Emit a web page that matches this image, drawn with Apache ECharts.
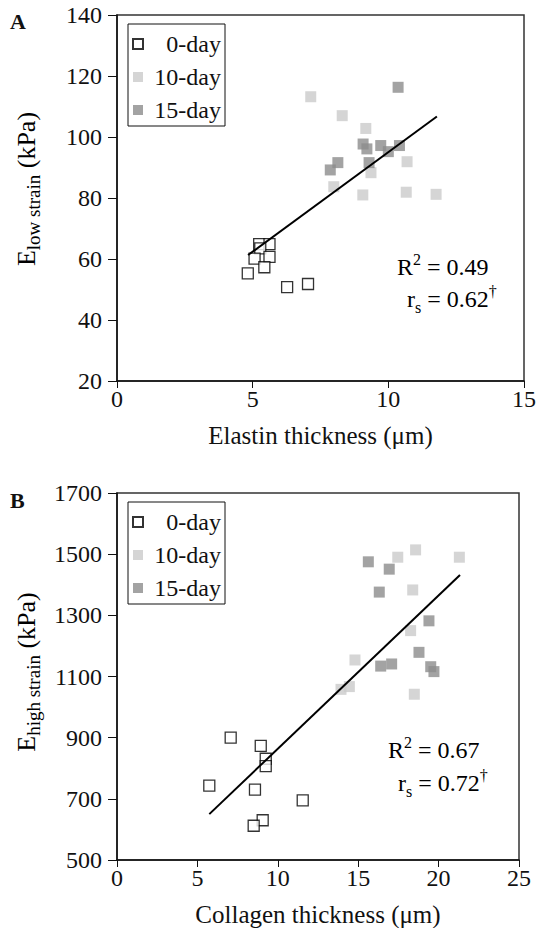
<!DOCTYPE html>
<html>
<head>
<meta charset="utf-8">
<script src="https://cdn.jsdelivr.net/npm/echarts@6/dist/echarts.min.js"></script>
<style>
  html, body { margin: 0; padding: 0; background: #fff; }
  #chart { width: 539px; height: 928px; }
</style>
</head>
<body>
<div id="chart"></div>
<script>
// panel A: elastin thickness vs E low strain
const xA0 = [5.24, 5.62, 5.28, 5.07, 5.62, 5.43, 4.82, 6.27, 7.04];
const yA0 = [64.9, 64.9, 63.5, 60.1, 60.7, 57.3, 55.3, 50.8, 51.8];
const xA10 = [7.14, 8.30, 9.17, 10.69, 9.36, 7.99, 9.06, 10.66, 11.76];
const yA10 = [113.2, 107.0, 102.8, 91.9, 88.3, 83.7, 81.0, 81.9, 81.2];
const xA15 = [10.36, 9.07, 9.21, 9.72, 10.0, 10.41, 8.14, 7.86, 9.29];
const yA15 = [116.3, 97.7, 96.1, 97.2, 95.2, 97.2, 91.6, 89.2, 91.6];
const fitA = [[4.83, 61.3], [11.79, 106.7]];

// panel B: collagen thickness vs E high strain
const xB0 = [7.07, 8.94, 9.25, 9.25, 5.74, 8.58, 11.55, 9.06, 8.50];
const yB0 = [900, 873, 831, 807, 743, 730, 695, 630, 612];
const xB10 = [17.46, 18.57, 21.29, 18.39, 18.26, 14.80, 13.93, 14.45, 18.49];
const yB10 = [1490, 1514, 1490, 1383, 1250, 1154, 1058, 1067, 1042];
const xB15 = [15.63, 16.93, 16.31, 19.40, 18.78, 16.40, 17.08, 19.51, 19.71];
const yB15 = [1475, 1451, 1376, 1282, 1179, 1134, 1141, 1132, 1116];
const fitB = [[5.74, 650], [21.33, 1432]];

const groups = ['0-day', '10-day', '15-day'];
const xTicksA = [0, 5, 10, 15];
const yTicksA = [20, 40, 60, 80, 100, 120, 140];
const xTicksB = [0, 5, 10, 15, 20, 25];
const yTicksB = [500, 700, 900, 1100, 1300, 1500, 1700];

const FONT = '"Liberation Serif", "Times New Roman", serif';
const styles = {
  '0-day': { color: '#ffffff', borderColor: '#000', borderWidth: 1.3 },
  '10-day': { color: '#cbcbcb' },
  '15-day': { color: '#8c8c8c' }
};

const zip = (xs, ys) => xs.map((x, i) => [x, ys[i]]);

function scatter(name, idx, xs, ys) {
  return {
    name: name,
    type: 'scatter',
    xAxisIndex: idx,
    yAxisIndex: idx,
    symbol: 'rect',
    symbolSize: 11,
    itemStyle: styles[name],
    data: zip(xs, ys)
  };
}

function fitLine(idx, pts) {
  return {
    type: 'line',
    xAxisIndex: idx,
    yAxisIndex: idx,
    showSymbol: false,
    silent: true,
    lineStyle: { color: '#000', width: 2 },
    data: pts
  };
}

function xAxis(idx, ticks, name) {
  return {
    type: 'value',
    gridIndex: idx,
    min: ticks[0],
    max: ticks[ticks.length - 1],
    interval: ticks[1] - ticks[0],
    name: name,
    nameLocation: 'middle',
    nameGap: 42,
    nameTextStyle: { fontFamily: FONT, fontSize: 25, color: '#111' },
    axisLine: { lineStyle: { color: '#111', width: 1.5 } },
    axisTick: { length: 7, lineStyle: { color: '#111' } },
    axisLabel: { margin: 6, fontFamily: FONT, fontSize: 24, color: '#111', formatter: v => String(v) },
    splitLine: { show: false }
  };
}

function yAxis(idx, ticks) {
  return {
    type: 'value',
    gridIndex: idx,
    min: ticks[0],
    max: ticks[ticks.length - 1],
    interval: ticks[1] - ticks[0],
    axisLine: { lineStyle: { color: '#111', width: 1.5 } },
    axisTick: { length: 9, lineStyle: { color: '#111' } },
    axisLabel: { margin: 15, fontFamily: FONT, fontSize: 24, color: '#111', formatter: v => String(v) },
    splitLine: { show: false }
  };
}

function legend(top) {
  return {
    data: groups,
    left: 128,
    top: top,
    orient: 'vertical',
    itemWidth: 22,
    itemHeight: 10,
    itemGap: 9,
    padding: [8, 4, 4, 4],
    borderColor: '#111',
    borderWidth: 1,
    icon: 'path://M0,0h10v10h-10z',
    selectedMode: false,
    formatter: '{r|{name}}',
    textStyle: {
      fontFamily: FONT, fontSize: 24, color: '#111',
      rich: { r: { width: 67, align: 'right', fontFamily: FONT, fontSize: 24 } }
    }
  };
}

const richText = {
  m: { fontFamily: FONT, fontSize: 24, color: '#111', lineHeight: 32, verticalAlign: 'middle' },
  n: { fontFamily: FONT, fontSize: 26, color: '#111', lineHeight: 34, verticalAlign: 'middle' },
  sub: { fontFamily: FONT, fontSize: 19, color: '#111', lineHeight: 19, verticalAlign: 'bottom' },
  ss: { fontFamily: FONT, fontSize: 16, color: '#111', lineHeight: 16, verticalAlign: 'bottom' },
  sup: { fontFamily: FONT, fontSize: 16, color: '#111', lineHeight: 16, verticalAlign: 'top' }
};

function label(x, y, text, rotation) {
  return {
    type: 'text',
    x: x,
    y: y,
    rotation: rotation || 0,
    style: { text: text, rich: richText, align: rotation ? 'center' : 'left', verticalAlign: 'middle' }
  };
}

const option = {
  animation: false,
  backgroundColor: '#fff',
  grid: [
    { left: 117, top: 15, width: 410, height: 366, show: true, borderColor: '#333', borderWidth: 1.5 },
    { left: 117, top: 493, width: 402, height: 367, show: true, borderColor: '#333', borderWidth: 1.5 }
  ],
  xAxis: [
    xAxis(0, xTicksA, 'Elastin thickness (μm)'),
    xAxis(1, xTicksB, 'Collagen thickness (μm)')
  ],
  yAxis: [yAxis(0, yTicksA), yAxis(1, yTicksB)],
  legend: [legend(24), legend(502)],
  series: [
    fitLine(0, fitA),
    scatter('0-day', 0, xA0, yA0),
    scatter('10-day', 0, xA10, yA10),
    scatter('15-day', 0, xA15, yA15),
    fitLine(1, fitB),
    scatter('0-day', 1, xB0, yB0),
    scatter('10-day', 1, xB10, yB10),
    scatter('15-day', 1, xB15, yB15)
  ],
  graphic: [
    { type: 'text', x: 10, y: 10, style: { text: 'A', fontFamily: FONT, fontSize: 22, fontWeight: 'bold', fill: '#111' } },
    { type: 'text', x: 10, y: 489, style: { text: 'B', fontFamily: FONT, fontSize: 22, fontWeight: 'bold', fill: '#111' } },
    label(26, 189, '{n|E}{sub|low strain}{n| (kPa)}', Math.PI / 2),
    label(26, 672, '{n|E}{sub|high strain}{n| (kPa)}', Math.PI / 2),
    label(397, 267, '{m|R}{sup|2}{m| = 0.49}'),
    label(407, 299, '{m|r}{ss|s}{m| = 0.62}{sup|†}'),
    label(388, 750, '{m|R}{sup|2}{m| = 0.67}'),
    label(398, 783, '{m|r}{ss|s}{m| = 0.72}{sup|†}')
  ]
};

const chart = echarts.init(document.getElementById('chart'), null, { renderer: 'svg' });
chart.setOption(option);
</script>
</body>
</html>
